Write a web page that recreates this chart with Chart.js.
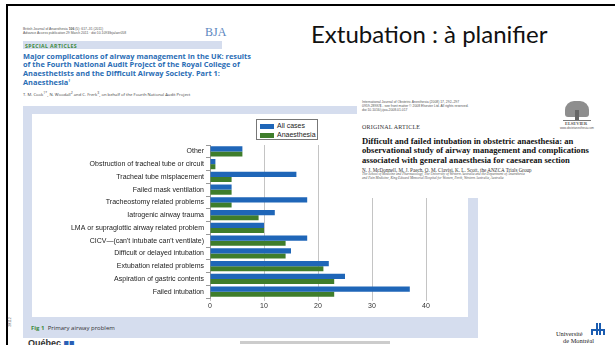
<!DOCTYPE html>
<html>
<head>
<meta charset="utf-8">
<script src="https://cdn.jsdelivr.net/npm/chart.js"></script>
<style>
  body { margin:0; width:615px; height:345px; overflow:hidden; background:#fff; position:relative; font-family:"Liberation Sans", Arial, sans-serif; }
  .abs { position:absolute; white-space:nowrap; }
  .tiny { font-size:3.4px; color:#555; line-height:4px; }
  .um { position:absolute; background:#1a5cb0; }
</style>
</head>
<body>

<!-- slide frame -->
<div class="abs" style="left:6px;top:4px;width:609px;height:2px;background:#000"></div>
<div class="abs" style="left:6px;top:4px;width:2px;height:341px;background:#000"></div>

<!-- BJA article header -->
<div class="abs tiny" style="left:23px;top:27px">British Journal of Anaesthesia <b>106</b> (5): 617–31 (2011)<br>Advance Access publication 29 March 2011 · doi:10.1093/bja/aer058</div>
<div class="abs" style="left:205px;top:25px;font:12px 'Liberation Serif',serif;color:#5b86c0">BJA</div>
<div class="abs" style="left:23px;top:41px;width:199px;height:8px;background:#d5ddee"></div>
<div class="abs" style="left:25px;top:42px;font:bold 5.2px 'Open Sans',sans-serif;color:#3d8a3d;letter-spacing:0.4px">SPECIAL ARTICLES</div>
<div class="abs" style="left:23px;top:52px;font:bold 7.4px/8.3px 'Open Sans',sans-serif;color:#2a6db5">Major complications of airway management in the UK: results<br>of the Fourth National Audit Project of the Royal College of<br>Anaesthetists and the Difficult Airway Society. Part 1:<br>Anaesthesia<sup style="font-size:4px">†</sup></div>
<div class="abs" style="left:23px;top:90px;font:4.2px 'Open Sans',sans-serif;color:#444">T. M. Cook<sup>1*</sup>, N. Woodall<sup>2</sup> and C. Frerk<sup>3</sup>, on behalf of the Fourth National Audit Project</div>

<!-- figure panel -->
<div class="abs" style="left:23px;top:106px;width:455px;height:232px;background:#d5ddee"></div>
<div class="abs" style="left:32px;top:114px;width:436px;height:203px;background:#fff"></div>
<canvas id="airway-chart" class="abs" width="436" height="203" style="left:32px;top:114px;width:436px;height:203px"></canvas>
<div id="airway-legend" class="abs" style="left:256px;top:119px;width:60px;height:19px;border:1px solid #777;background:#fff"></div>
<div class="abs" style="left:31px;top:324px;font:6px 'Open Sans',sans-serif;color:#333"><b style="color:#3d8a3d">Fig 1</b>&nbsp; Primary airway problem</div>
<div class="abs" style="left:5px;top:320px;font:3.6px 'Liberation Sans',sans-serif;color:#555;transform:rotate(-90deg)">28112</div>

<!-- second article, pasted on top -->
<div class="abs" style="left:357px;top:96px;width:258px;height:102px;background:#fff"></div>
<div class="abs tiny" style="left:362px;top:100px">International Journal of Obstetric Anesthesia (2008) 17, 292–297<br>0959-289X/$ - see front matter © 2008 Elsevier Ltd. All rights reserved.<br>doi:10.1016/j.ijoa.2008.01.017</div>
<div class="abs" style="left:565px;top:101px;width:24px;height:16px;background:#8e8e8e;border-radius:9px 9px 3px 3px"></div>
<div class="abs" style="left:575px;top:110px;width:4px;height:10px;background:#666"></div>
<div class="abs" style="left:563px;top:120px;width:28px;height:1px;background:#777"></div>
<div class="abs" style="left:565px;top:121px;font:bold 4.4px 'Liberation Serif',serif;color:#555">ELSEVIER</div>
<div class="abs tiny" style="left:560px;top:126px;font-size:2.8px">www.obstetanesthesia.com</div>
<div class="abs" style="left:362px;top:124px;font:6px 'Liberation Serif',serif;color:#333;letter-spacing:0.2px">ORIGINAL ARTICLE</div>
<div class="abs" style="left:362px;top:137px;font:bold 8.6px/9.4px 'Liberation Serif',serif;color:#111">Difficult and failed intubation in obstetric anaesthesia: an<br>observational study of airway management and complications<br>associated with general anaesthesia for caesarean section</div>
<div class="abs" style="left:362px;top:167px;font:5.1px 'Liberation Serif',serif;color:#333">N. J. McDonnell, M. J. Paech, O. M. Clavisi, K. L. Scott, the ANZCA Trials Group</div>
<div class="abs" style="left:362px;top:173px;font:italic 3.5px/3.8px 'Liberation Serif',serif;color:#555">The School of Medicine and Pharmacology, The University of Western Australia and the Department of Anaesthesia<br>and Pain Medicine, King Edward Memorial Hospital for Women, Perth, Western Australia, Australia</div>

<!-- slide title -->
<div class="abs" style="left:311px;top:19px;font:24px Lato,sans-serif;color:#111">Extubation : à planifier</div>

<!-- footer -->
<div class="abs" style="left:28px;top:338px;font:bold 9px 'Liberation Sans',sans-serif;color:#333">Québec <span style="color:#2a5fb5">■■</span></div>
<div class="abs" style="left:240px;top:341px;width:150px;height:3px;background:#ccc"></div>
<div class="abs" style="left:556px;top:330px;font:6.4px/7px 'Liberation Serif',serif;color:#222">Université</div>
<div class="abs" style="left:563px;top:337px;font:6.4px/7px 'Liberation Serif',serif;color:#222">de Montréal</div>
<div class="um" style="left:596px;top:323px;width:2px;height:12px"></div>
<div class="um" style="left:599px;top:323px;width:2px;height:12px"></div>
<div class="um" style="left:591px;top:329px;width:14px;height:2px;border-radius:2px 2px 0 0"></div>
<div class="um" style="left:591px;top:329px;width:2px;height:6px"></div>
<div class="um" style="left:603px;top:329px;width:2px;height:6px"></div>

<script>
// chart data
var categories = ["Other", "Obstruction of tracheal tube or circuit", "Tracheal tube misplacement",
    "Failed mask ventilation", "Tracheostomy related problems", "Iatrogenic airway trauma",
    "LMA or supraglottic airway related problem", "CICV\u2014(can't intubate can't ventilate)",
    "Difficult or delayed intubation", "Extubation related problems",
    "Aspiration of gastric contents", "Failed intubation"];
var allCases    = [6, 1, 16, 4, 18, 12, 10, 18, 15, 22, 25, 37];
var anaesthesia = [6, 1, 4, 4, 4, 9, 10, 14, 14, 21, 23, 23];
var seriesNames = ["All cases", "Anaesthesia"];
var xTicks = [0, 10, 20, 30, 40];

var colours = ["#1f66b8", "#3f7d2b"];

document.addEventListener("DOMContentLoaded", function() {
    drawGraph();
    drawLegend();
});

function drawGraph(){
    Chart.defaults.font.family = "'Liberation Sans', Arial, sans-serif";
    Chart.defaults.font.size = 7;

    new Chart(document.getElementById("airway-chart"), {
        type: 'bar',
        data: {
            labels: categories,
            datasets: [
                { label: seriesNames[0], backgroundColor: colours[0], data: allCases },
                { label: seriesNames[1], backgroundColor: colours[1], data: anaesthesia }
            ]
        },
        options: {
            indexAxis: 'y',
            responsive: false,
            animation: false,
            layout: { padding: { top: 31, right: 15, left: 0, bottom: 0 } },
            datasets: { bar: { categoryPercentage: 0.8, barPercentage: 1 } },
            plugins: { legend: { display: false }, tooltip: { enabled: false } },
            scales: {
                x: {
                    min: 0, max: 45,
                    afterBuildTicks: function(s){ s.ticks = xTicks.map(function(v){ return { value: v }; }); },
                    afterFit: function(s){ s.height = 19; },
                    grid: { color: '#c4c4c4', tickLength: 3 },
                    border: { display: false },
                    ticks: { color: '#333', padding: 1 }
                },
                y: {
                    afterFit: function(s){ s.width = 178; },
                    grid: { offset: true, drawOnChartArea: false, tickLength: 4, color: '#999' },
                    border: { display: true, color: '#999' },
                    ticks: { color: '#222', padding: 2 }
                }
            }
        }
    });
}

function drawLegend(){
    var box = document.getElementById("airway-legend");
    var html = "";
    for (var i = 0; i < seriesNames.length; i++) {
        html += '<div style="height:9px;line-height:9px;font-size:7px;color:#222;padding-left:3px;margin-top:' + (i == 0 ? 1 : 0) + 'px">' +
                '<span style="display:inline-block;width:14px;height:5px;background:' + colours[i] + ';vertical-align:middle;margin-right:3px"></span>' +
                seriesNames[i] + '</div>';
    }
    box.innerHTML = html;
}
</script>
</body>
</html>
